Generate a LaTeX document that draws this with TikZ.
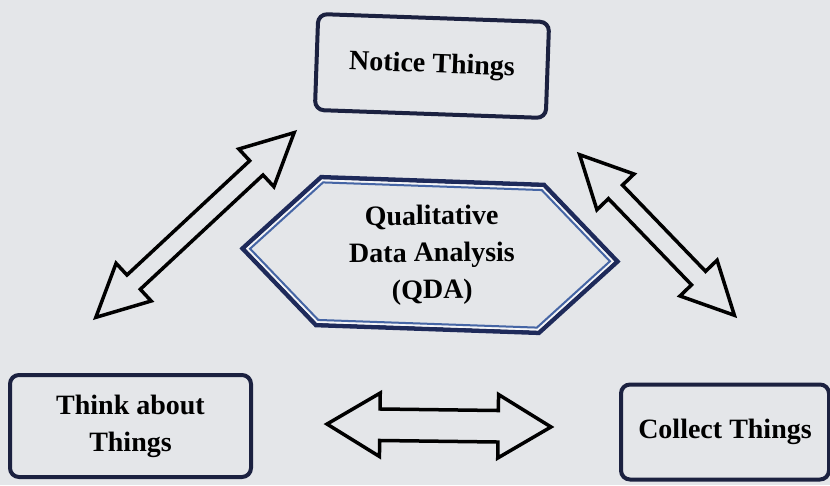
\documentclass[tikz,border=0pt]{standalone}
\usepackage{fontspec}
\setmainfont{Liberation Serif}
\usetikzlibrary{shapes.arrows}
\definecolor{bg}{HTML}{E4E6E9}
\definecolor{boxnavy}{HTML}{1B2140}
\definecolor{hexnavy}{HTML}{1E2A5A}
\definecolor{hexblue}{HTML}{4565A5}
\definecolor{hexgap}{HTML}{F4F5F8}
\newcommand\hexpath[1]{(-187.5+1.435*#1,0) -- (-111.5+0.4075*#1,-74+#1) -- (111.5-0.4075*#1,-74+#1) -- (187.5-1.435*#1,0) -- (111.5-0.4075*#1,74-#1) -- (-111.5+0.4075*#1,74-#1) -- cycle}
\begin{document}
\begin{tikzpicture}[x=1pt,y=-1pt,
  lbl/.style={font=\bfseries\fontsize{28}{37}\selectfont, align=center, text=black},
  stagebox/.style={lbl, draw=boxnavy, line width=4pt, rounded corners=9pt, inner sep=0pt},
  blockarrow/.style={shape=double arrow, draw=black, line width=3.5pt, fill=bg, inner xsep=0pt, minimum width=0pt, line join=miter},
]
\fill[bg] (0,0) rectangle (830,485);
\useasboundingbox (0,0) rectangle (830,485);

% stage boxes
\node[stagebox, minimum width=231pt, minimum height=96pt, rotate=-2] (notice) at (432,66) {Notice Things};
\node[stagebox, minimum width=241pt, minimum height=102pt] (think) at (130.5,426) {Think about\\Things};
\node[stagebox, minimum width=208pt, minimum height=95pt] (collect) at (725,432) {Collect Things};

% central hexagon
\begin{scope}[shift={(430,255)}, rotate=-2]
  \draw[hexnavy, line width=4.5pt, line join=miter] \hexpath{0};
  \draw[hexgap, line width=1.6pt] \hexpath{3.1};
  \draw[hexblue, line width=2pt] \hexpath{5.2};
  \node[lbl, rotate=0.5] (qda) at (2,0) {Qualitative\\Data Analysis\\(QDA)};
\end{scope}

% block arrows
\coordinate (la1) at (93,320);  \coordinate (la2) at (297,130);
\coordinate (ra1) at (577,152); \coordinate (ra2) at (737,318);
\coordinate (ba1) at (323,424); \coordinate (ba2) at (555,427);
\path (la1) -- (la2) node[midway, sloped, blockarrow, inner ysep=8pt, double arrow head extend=16pt, double arrow tip angle=53, minimum height=271pt] (leftarrow) {};
\path (ra1) -- (ra2) node[midway, sloped, blockarrow, inner ysep=8pt, double arrow head extend=16pt, double arrow tip angle=53, minimum height=223pt] (rightarrow) {};
\path (ba1) -- (ba2) node[midway, sloped, blockarrow, inner ysep=14pt, double arrow head extend=16pt, double arrow tip angle=62, minimum height=224pt] (bottomarrow) {};
\end{tikzpicture}
\end{document}
